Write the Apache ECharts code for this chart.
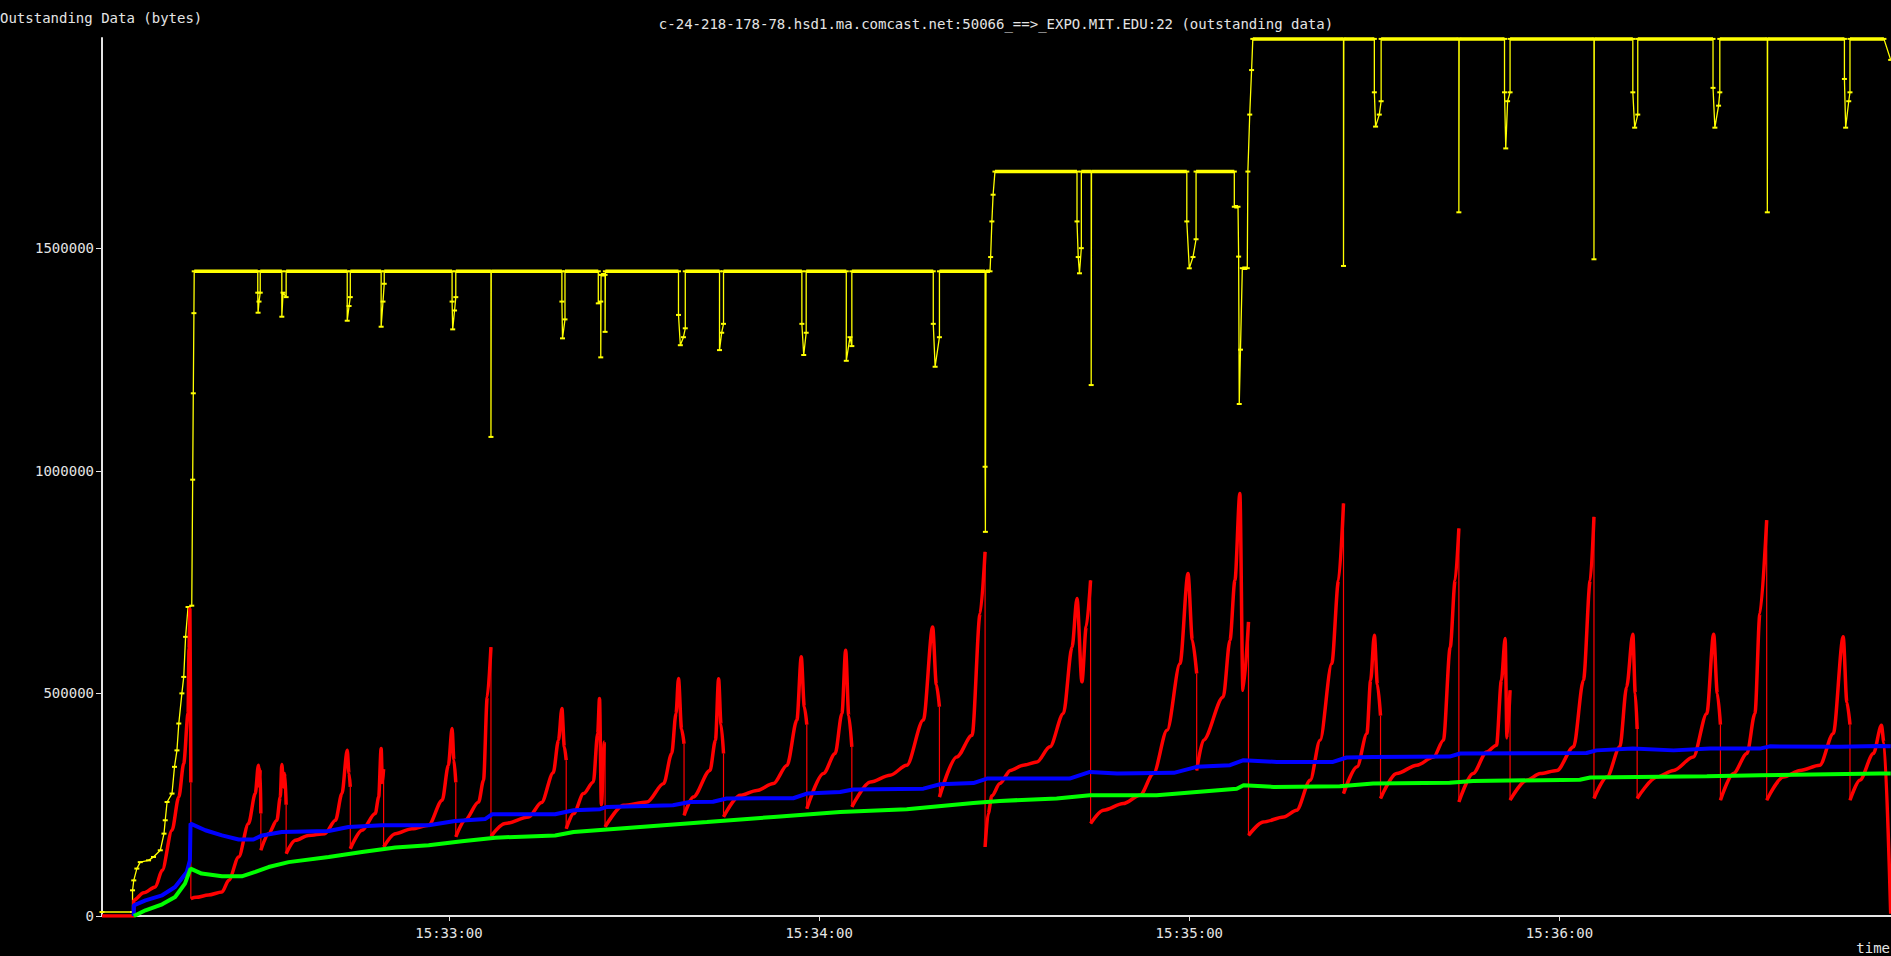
<!DOCTYPE html>
<html>
<head>
<meta charset="utf-8">
<script src="https://cdn.jsdelivr.net/npm/echarts@6/dist/echarts.min.js"></script>
<style>
html,body{margin:0;padding:0;background:#000;}
#chart{width:1891px;height:956px;}
</style>
</head>
<body>
<div id="chart"></div>
<script>
// time in seconds after 15:32:00, value in bytes
const titleText = 'c-24-218-178-78.hsd1.ma.comcast.net:50066_==>_EXPO.MIT.EDU:22 (outstanding data)';
const yAxisName = 'Outstanding Data (bytes)';
const xAxisName = 'time';
const xTickValues = [60, 120, 180, 240];
const yTickValues = [0, 500000, 1000000, 1500000];

const windowData = [
[3.75,9000],[8.7,9000],[8.7,57700],[8.9,80000],[9.4,106500],[9.95,121000],[11.3,125000],[12.1,132600],[13.2,147600],[13.8,185000],[14.0,215000],[14.3,256000],[15.1,275000],[15.5,335000],[15.9,372000],[16.2,432300],[16.7,500000],[17.0,537000],[17.3,627000],[17.7,694000],[18.3,697000],[18.45,980000],[18.55,1174000],[18.65,1354000],[18.7,1448000],
[29.0,1448000],[29.0,1400000],[29.05,1355000],[29.2,1380000],[29.4,1400000],[29.4,1448000],
[32.9,1448000],[32.9,1346000],[33.1,1400000],[33.6,1390000],[33.6,1448000],
[43.5,1448000],[43.5,1337000],[43.8,1370000],[44.0,1390000],[44.0,1448000],
[49.0,1448000],[49.0,1323500],[49.3,1380000],[49.5,1420000],[49.5,1448000],
[60.5,1448000],[60.5,1380000],[60.6,1317600],[60.9,1360000],[61.1,1390000],[61.1,1448000],
[66.8,1448000],[66.8,1076000],[66.85,1448000],
[78.3,1448000],[78.3,1380000],[78.4,1297400],[78.8,1340000],[78.8,1448000],
[84.2,1448000],[84.2,1376000],[84.6,1380000],[84.6,1254700],[84.65,1440000],[85.3,1440000],[85.3,1312000],[85.35,1448000],
[97.2,1448000],[97.2,1350000],[97.5,1282000],[98.0,1300000],[98.3,1320000],[98.3,1448000],
[103.85,1448000],[103.85,1271000],[104.2,1310000],[104.5,1330000],[104.5,1448000],
[117.2,1448000],[117.2,1330000],[117.5,1260000],[117.9,1310000],[117.9,1448000],
[124.4,1448000],[124.4,1247000],[125.0,1300000],[125.3,1280000],[125.3,1448000],
[138.5,1448000],[138.5,1330000],[138.8,1233600],[139.5,1300000],[139.5,1448000],
[146.9,1448000],[146.9,1009000],[146.95,862800],[147.05,1448000],[147.7,1448000],[147.8,1480000],[148.0,1560000],[148.2,1620000],[148.5,1672000],
[161.8,1672000],[161.8,1560000],[162.0,1480000],[162.2,1443500],[162.5,1500000],[162.5,1672000],
[164.1,1672000],[164.1,1192500],[164.15,1672000],
[179.6,1672000],[179.6,1560000],[180.0,1454700],[180.6,1480000],[181.1,1520000],[181.1,1672000],
[187.3,1672000],[187.3,1593000],[187.9,1593000],[188.0,1481000],[188.1,1150000],[188.3,1272000],[188.6,1455000],[189.4,1455000],[189.5,1672000],[189.8,1800000],[190.1,1900000],[190.3,1970000],
[205.0,1970000],[205.0,1460000],[205.05,1970000],
[210.0,1970000],[210.0,1850000],[210.2,1773000],[210.8,1800000],[211.1,1830000],[211.1,1970000],
[223.7,1970000],[223.7,1580500],[223.75,1970000],
[231.1,1970000],[231.1,1850000],[231.3,1724000],[231.6,1830000],[232.0,1850000],[232.0,1970000],
[245.6,1970000],[245.6,1475000],[245.65,1970000],
[251.9,1970000],[251.9,1850000],[252.2,1770600],[252.7,1800000],[252.7,1970000],
[264.9,1970000],[264.9,1860000],[265.2,1770600],[265.8,1820000],[266.0,1850000],[266.0,1970000],
[273.7,1970000],[273.7,1580500],[273.75,1970000],
[286.2,1970000],[286.2,1880000],[286.4,1770600],[286.9,1830000],[287.1,1850000],[287.1,1970000],
[292.6,1970000],[293.7,1922800]
];

const outstandingData = [
[3.75,0],[8.9,0],[8.9,35300],[10.5,52000],[12.4,65200],[13.5,102700],[15.1,192600],[16.2,267400],[17.0,342400],[17.7,454800],[17.85,600000],[18.0,690000],[18.15,300000],[18.15,39000],
[19.0,42000],[21.0,47000],[23.2,54000],[24.3,80200],[25.9,132600],[27.5,207600],[28.6,275000],[29.1,338600],[29.3,290000],[29.4,330000],[29.5,230000],[29.5,147600],
[30.75,185000],[32.1,215000],[32.65,267000],[32.9,340000],[33.2,290000],[33.4,320000],[33.6,250000],[33.6,140000],
[35.1,170000],[37.2,181000],[39.9,185000],[41.6,215000],[42.65,275000],[43.5,372000],[43.8,320000],[44.0,290000],[44.0,151000],
[45.9,192600],[48.05,230000],[48.6,267000],[49.0,376000],[49.2,300000],[49.4,330000],[49.4,155000],
[51.3,185000],[54.0,196000],[56.7,204000],[58.9,260000],[59.9,338600],[60.5,421000],[60.8,350000],[61.1,300000],[61.1,177500],
[62.6,215000],[64.8,256000],[65.6,305000],[66.2,492000],[66.8,604000],[66.8,179000],
[69.1,207600],[72.9,222500],[75.0,255000],[76.9,322000],[77.75,395000],[78.3,466000],[78.7,380000],[79.0,350000],[79.0,196000],
[80.2,230000],[81.8,275000],[83.4,301000],[84.1,410000],[84.4,488500],[84.7,250000],[85.2,391000],[85.3,391000],[85.3,200000],
[88.3,248700],[92.1,256000],[94.8,297500],[96.1,365000],[96.8,455000],[97.2,533400],[97.7,420000],[98.1,387000],[98.1,226000],
[99.6,267000],[102.3,327000],[103.2,395000],[103.7,533000],[104.1,430000],[104.5,365000],[104.5,222500],
[107.2,271000],[109.9,282000],[112.6,297500],[114.8,338600],[116.4,440000],[117.1,582000],[117.6,470000],[118.0,430000],[118.0,241000],
[120.7,320000],[122.6,365000],[123.7,455000],[124.3,597000],[124.8,450000],[125.3,380000],[125.3,245000],
[128.3,301000],[131.5,316000],[134.2,338600],[136.9,440000],[138.4,649000],[139.0,520000],[139.5,470000],[139.5,267000],
[142.3,357000],[144.8,406000],[146.1,679500],[146.9,818000],[146.9,155000],
[147.4,230000],[148.0,270000],[149.3,297500],[151.0,327000],[153.1,338600],[155.3,346000],[157.4,380000],[159.6,455000],[161.0,604000],[161.8,713000],[162.6,526000],[163.3,650000],[164.0,754000],[164.0,207600],
[166.1,237500],[169.3,252500],[172.0,271000],[174.2,320000],[176.4,417000],[178.5,567000],[179.8,769000],[180.5,620000],[181.2,544700],[181.2,327000],
[182.3,395000],[185.5,492000],[186.6,619500],[187.4,754000],[188.2,949000],[188.7,507000],[189.6,660600],[189.6,181000],
[192.0,211000],[195.3,222500],[197.4,237500],[199.6,305000],[201.2,395000],[203.1,567000],[204.2,754000],[205.0,926600],[205.0,275000],
[207.2,335000],[208.8,410000],[209.4,529600],[210.0,630700],[210.5,520000],[211.0,450000],[211.0,264000],
[213.6,320000],[216.9,338600],[219.6,357000],[221.2,395000],[222.3,604000],[223.1,754000],[223.7,870500],[223.7,256000],
[226.0,320000],[228.2,368500],[229.8,383500],[230.6,529600],[231.2,623000],[231.5,400000],[232.0,507000],[232.0,260000],
[234.7,305000],[236.9,320000],[239.6,327000],[242.3,380000],[243.9,529600],[245.0,754000],[245.6,896500],[245.6,264000],
[247.7,312000],[249.8,380000],[250.9,514500],[251.9,633000],[252.3,500000],[252.6,420000],[252.6,264000],
[255.8,312000],[258.5,327000],[261.7,357000],[263.9,455000],[265.0,633000],[265.6,500000],[266.1,430000],[266.1,260000],
[268.2,320000],[270.4,365000],[271.7,455000],[272.5,679500],[273.6,889000],[273.6,260000],
[276.3,312000],[279.0,327000],[282.2,338600],[284.4,410000],[286.0,627000],[286.6,480000],[287.1,430000],[287.1,260000],
[288.7,305000],[290.9,365000],[292.2,428500],[292.6,390000],[293.7,5000]
];

const avgBlueData = [
[8.9,0],[8.9,24000],[10.8,35000],[13.5,46500],[15.6,65000],[17.5,99000],[18.0,125000],[18.1,207600],[20.5,192600],[23.2,181000],[25.9,171700],[28.3,171700],[29.7,181000],[32.9,188700],[40.5,191000],[43.7,200000],[49.1,204000],[56.7,204000],[61.0,213500],[65.9,218000],[67.0,228500],[77.2,228500],[80.2,237500],[84.5,240000],[85.6,245000],[96.3,248700],[99.0,256000],[102.8,256500],[105.0,264000],[115.8,264500],[118.0,275000],[123.4,278600],[125.5,284000],[136.9,286000],[139.6,296000],[145.0,298500],[147.2,308700],[153.1,308700],[160.6,308700],[163.9,323600],[168.3,320000],[177.5,321500],[181.2,335000],[186.6,338600],[188.8,350000],[194.2,346000],[203.3,346000],[205.5,356000],[209.8,357000],[222.2,358000],[223.9,365000],[244.4,366000],[246.0,372000],[251.9,376000],[258.5,372000],[264.4,376000],[272.5,376000],[274.1,381000],[285.4,380000],[291.9,382000],[293.7,381000]
];

const avgGreenData = [
[8.9,0],[10.8,12800],[13.5,26300],[15.6,42700],[17.2,72800],[18.1,106500],[19.9,95300],[23.2,89200],[26.4,89200],[28.6,99000],[30.75,110000],[34.0,121000],[40.5,132600],[45.9,143800],[51.3,153700],[56.7,159000],[62.1,167800],[67.5,176000],[77.2,181000],[80.2,188700],[91.0,200000],[101.8,211000],[112.6,222500],[123.4,233700],[134.2,240000],[145.0,254000],[149.3,258500],[158.5,264000],[163.9,271000],[174.7,271000],[187.7,286000],[188.8,293700],[193.7,290000],[204.4,291500],[209.8,297500],[222.2,299500],[226.0,303300],[243.3,306000],[245.0,311000],[263.9,314000],[272.5,316000],[291.9,320000],[293.7,320000]
];

function isDrop(a,b){ return b[0]===a[0] && b[1]<a[1]; }
// thick red: everything except the vertical drop lines
function redThick(pts){
  const out=[];
  for(let i=0;i<pts.length;i++){
    out.push(pts[i]);
    if(i+1<pts.length && isDrop(pts[i],pts[i+1])) out.push([pts[i][0],'-']);
  }
  return out;
}
// thin red: only the vertical drop lines
function redThin(pts){
  const out=[];
  for(let i=0;i+1<pts.length;i++){
    if(isDrop(pts[i],pts[i+1])) out.push(pts[i],pts[i+1],[pts[i][0],'-']);
  }
  return out;
}
function yellowThick(pts){
  const out=[];
  for(let i=0;i+1<pts.length;i++){
    if(pts[i][1]===pts[i+1][1] && pts[i][1]>=1400000){
      out.push(pts[i],pts[i+1],[pts[i+1][0],'-']);
    }
  }
  return out;
}
function fmtTime(v){
  const tot = Math.round(v);
  const m = 32 + Math.floor(tot/60), s = tot%60;
  return '15:' + String(m).padStart(2,'0') + ':' + String(s).padStart(2,'0');
}

const FONT = 'DejaVu Sans Mono';
const TXT = '#e4e4e4';
const chart = echarts.init(document.getElementById('chart'), null, {renderer:'svg'});
chart.setOption({
  backgroundColor:'#000000',
  animation:false,
  grid:{left:102,right:0,top:38,bottom:40},
  xAxis:{
    type:'value', min:3.75, max:293.75,
    axisLine:{show:true,onZero:false,lineStyle:{color:TXT,width:2}},
    axisTick:{show:true,length:5,customValues:xTickValues,lineStyle:{color:TXT,width:1}},
    axisLabel:{customValues:xTickValues,formatter:fmtTime,color:TXT,fontFamily:FONT,fontSize:14,margin:10},
    splitLine:{show:false}
  },
  yAxis:{
    type:'value', min:0, max:1972000, interval:500000,
    axisLine:{show:true,lineStyle:{color:TXT,width:2}},
    axisTick:{show:true,length:6,customValues:yTickValues,lineStyle:{color:TXT,width:1}},
    axisLabel:{customValues:yTickValues,formatter:function(v){return String(v);},color:TXT,fontFamily:FONT,fontSize:14,margin:8},
    splitLine:{show:false}
  },
  graphic:[
    {type:'text',x:996,y:24,style:{text:titleText,fill:TXT,font:'14px '+FONT,textAlign:'center',textVerticalAlign:'middle'}},
    {type:'text',x:0,y:18,style:{text:yAxisName,fill:TXT,font:'14px '+FONT,textAlign:'left',textVerticalAlign:'middle'}},
    {type:'text',x:1890,y:948,style:{text:xAxisName,fill:TXT,font:'14px '+FONT,textAlign:'right',textVerticalAlign:'middle'}}
  ],
  series:[
    {type:'line',name:'window',data:windowData,showSymbol:true,symbol:'rect',symbolSize:[5,2],
     itemStyle:{color:'#ffff00'},lineStyle:{color:'#ffff00',width:1.3},z:2},
    {type:'line',name:'window-level',data:yellowThick(windowData),showSymbol:false,connectNulls:false,
     lineStyle:{color:'#ffff00',width:3.5},z:2},
    {type:'line',name:'outstanding-drops',data:redThin(outstandingData),showSymbol:false,connectNulls:false,
     lineStyle:{color:'#ff0000',width:1.2},z:3},
    {type:'line',name:'outstanding',data:redThick(outstandingData),showSymbol:false,connectNulls:false,
     smooth:0.3,smoothMonotone:'x',
     lineStyle:{color:'#ff0000',width:3.5},z:3},
    {type:'line',name:'avg-total',data:avgBlueData,showSymbol:false,
     lineStyle:{color:'#0000ff',width:4},z:4},
    {type:'line',name:'avg-recent',data:avgGreenData,showSymbol:false,
     lineStyle:{color:'#00ff00',width:4},z:4}
  ]
});
</script>
</body>
</html>
